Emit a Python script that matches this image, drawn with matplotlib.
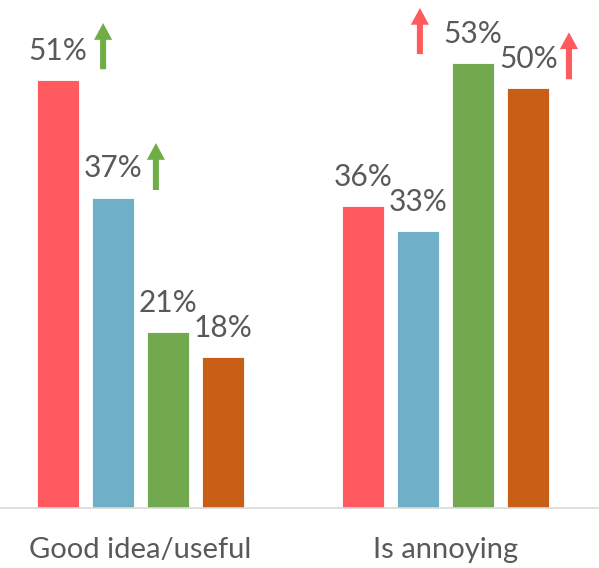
import matplotlib
matplotlib.use("Agg")
import matplotlib.pyplot as plt
import numpy as np

# Survey responses, four segments per statement
categories = ["Good idea/useful", "Is annoying"]
segment_colors = ["#FF5A5F", "#6FB0C8", "#72A94E", "#C95F16"]
good_idea = [51, 37, 21, 18]
annoying = [36, 33, 53, 50]
series = [good_idea, annoying]

# Trend arrows: (x position in bar units, y start, y end, colour)
arrows = [
    (0.82, 52.3, 57.8, "#70AD47"),
    (1.78, 37.9, 43.5, "#70AD47"),
    (6.58, 54.1, 59.6, "#FF5A5F"),
    (9.29, 51.1, 56.7, "#FF5A5F"),
]

group_starts = [0.0, 5.55]
bar_width = 0.76

plt.rcParams["font.family"] = ["Lato", "DejaVu Sans"]
text_color = "#595959"

fig = plt.figure(figsize=(5.99, 5.68), dpi=100)
ax = fig.add_axes([0, 60 / 568, 1, 508 / 568])

for start, values in zip(group_starts, series):
    xs = start + np.arange(len(values))
    bars = ax.bar(xs, values, width=bar_width, color=segment_colors,
                  edgecolor="white", linewidth=0.6)
    for x, v in zip(xs, values):
        ax.annotate(f"{v}%", xy=(x, v), xytext=(0, 14.5),
                    textcoords="offset points", ha="center", va="baseline",
                    fontsize=21.5, color=text_color)

for x, y0, y1, c in arrows:
    ax.arrow(x, y0, 0, y1 - y0, width=0.11, head_width=0.33,
             head_length=2.0, length_includes_head=True, color=c,
             linewidth=0)

centers = [s + 1.5 for s in group_starts]
ax.set_xticks(centers)
ax.set_xticklabels(categories, fontsize=21, color=text_color)
ax.tick_params(axis="x", length=0, pad=21)

ax.set_xlim(-58 / 55, (599 - 58) / 55)
ax.set_ylim(0, 508 / 8.39)
ax.set_yticks([])
for side in ["top", "left", "right"]:
    ax.spines[side].set_visible(False)
ax.spines["bottom"].set_color("#D9D9D9")
ax.spines["bottom"].set_linewidth(1.2)

fig.savefig("out.png", dpi=100)
